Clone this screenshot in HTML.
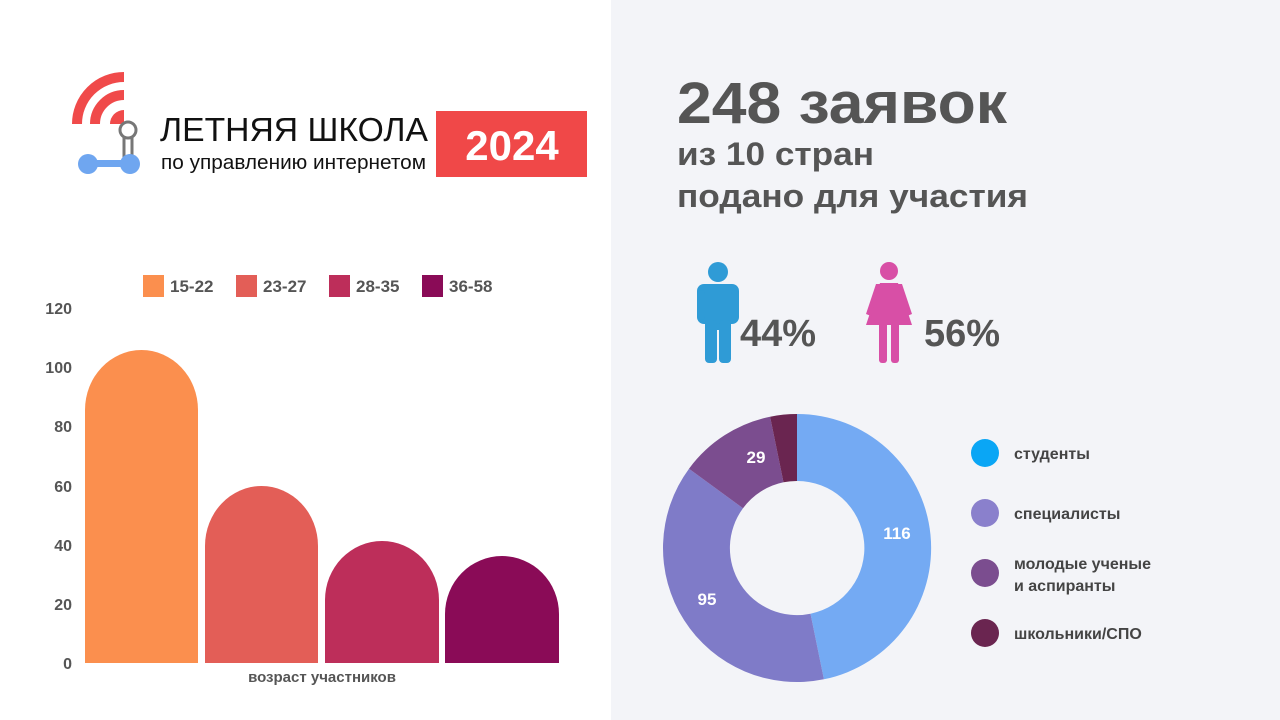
<!DOCTYPE html>
<html><head><meta charset="utf-8"><style>
html,body{margin:0;padding:0;width:1280px;height:720px;overflow:hidden;background:#fff}
svg{display:block}
text{font-family:"Liberation Sans",sans-serif}
</style></head><body>
<svg width="1280" height="720" viewBox="0 0 1280 720">
<rect x="0" y="0" width="611" height="720" fill="#ffffff"/>
<rect x="611" y="0" width="669" height="720" fill="#f3f4f8"/>

<!-- logo -->
<g fill="none" stroke="#f04a4a" stroke-width="10">
<path d="M77,124 A47,47 0 0 1 124,77"/>
<path d="M95,124 A29,29 0 0 1 124,95"/>
</g>
<path d="M110,124 A14,14 0 0 1 124,110 L124,124 Z" fill="#f04a4a"/>
<circle cx="128" cy="130" r="8" fill="none" stroke="#777" stroke-width="3"/>
<line x1="124" y1="137" x2="124" y2="158" stroke="#777" stroke-width="3"/>
<line x1="132" y1="137" x2="132" y2="158" stroke="#777" stroke-width="3"/>
<rect x="88" y="160" width="40" height="7" fill="#6fa6f0"/>
<circle cx="88" cy="164" r="10" fill="#6fa6f0"/>
<circle cx="130" cy="164" r="10" fill="#6fa6f0"/>
<text x="160" y="141" font-size="33" fill="#111" textLength="268" lengthAdjust="spacingAndGlyphs">ЛЕТНЯЯ ШКОЛА</text>
<text x="161" y="169" font-size="20" fill="#111" textLength="265" lengthAdjust="spacingAndGlyphs">по управлению интернетом</text>
<rect x="436" y="111" width="151" height="66" fill="#f04848"/>
<text x="512" y="160" font-size="42" font-weight="bold" fill="#fff" text-anchor="middle">2024</text>

<!-- bar legend -->
<g font-size="17" font-weight="bold" fill="#555">
<rect x="143" y="275" width="21" height="22" fill="#fb8f4e"/><text x="170" y="292">15-22</text>
<rect x="236" y="275" width="21" height="22" fill="#e35e57"/><text x="263" y="292">23-27</text>
<rect x="329" y="275" width="21" height="22" fill="#bd2e5a"/><text x="356" y="292">28-35</text>
<rect x="422" y="275" width="21" height="22" fill="#8a0b57"/><text x="449" y="292">36-58</text>
</g>
<g font-size="16" font-weight="bold" fill="#555" text-anchor="end">
<text x="72" y="314">120</text>
<text x="72" y="373">100</text>
<text x="72" y="432">80</text>
<text x="72" y="492">60</text>
<text x="72" y="551">40</text>
<text x="72" y="610">20</text>
<text x="72" y="669">0</text>
</g>
<path d="M85,663 L85,410 A56.5,60 0 0 1 198,410 L198,663 Z" fill="#fb8f4e"/>
<path d="M205,663 L205,546 A56.5,60 0 0 1 318,546 L318,663 Z" fill="#e35e57"/>
<path d="M325,663 L325,600 A57,59 0 0 1 439,600 L439,663 Z" fill="#bd2e5a"/>
<path d="M445,663 L445,614 A57,58 0 0 1 559,614 L559,663 Z" fill="#8a0b57"/>
<text x="322" y="682" font-size="15" font-weight="bold" fill="#555" text-anchor="middle">возраст участников</text>

<!-- right header -->
<text x="677" y="123" font-size="58" font-weight="bold" fill="#555" textLength="330" lengthAdjust="spacingAndGlyphs">248 заявок</text>
<text x="677" y="165" font-size="32" font-weight="bold" fill="#555" textLength="197" lengthAdjust="spacingAndGlyphs">из 10 стран</text>
<text x="677" y="207" font-size="32" font-weight="bold" fill="#555" textLength="351" lengthAdjust="spacingAndGlyphs">подано для участия</text>

<!-- male -->
<g fill="#2f9bd6">
<circle cx="718" cy="272" r="10"/>
<rect x="697" y="284" width="42" height="40" rx="7"/>
<rect x="697" y="290" width="8" height="30" rx="4"/>
<rect x="731" y="290" width="8" height="30" rx="4"/>
<rect x="705" y="300" width="26" height="30"/>
<rect x="705" y="320" width="12" height="43" rx="4"/>
<rect x="719" y="320" width="12" height="43" rx="4"/>
</g>
<text x="740" y="346" font-size="38" font-weight="bold" fill="#555">44%</text>
<!-- female -->
<g fill="#d84fa6">
<circle cx="889" cy="271" r="9"/>
<path d="M880,283 L898,283 L912,325 L866,325 Z"/>
<path d="M897,284 L907,316 L912,314 L902,284 Z"/>
<path d="M881,284 L871,316 L866,314 L876,284 Z"/>
<rect x="879" y="320" width="8" height="43" rx="3"/>
<rect x="891" y="320" width="8" height="43" rx="3"/>
</g>
<text x="924" y="346" font-size="38" font-weight="bold" fill="#555">56%</text>

<!-- donut -->
<path d="M797,414 A134,134 0 0 1 823.9,679.3 L810.5,613.7 A67,67 0 0 0 797,481 Z" fill="#74aaf3"/>
<path d="M823.9,679.3 A134,134 0 0 1 689,468.7 L743,508.3 A67,67 0 0 0 810.5,613.7 Z" fill="#7f7bc8"/>
<path d="M689,468.7 A134,134 0 0 1 770.1,416.7 L783.5,482.3 A67,67 0 0 0 743,508.3 Z" fill="#7b4d8f"/>
<path d="M770.1,416.7 A134,134 0 0 1 797,414 L797,481 A67,67 0 0 0 783.5,482.3 Z" fill="#6a2550"/>
<g font-size="17" font-weight="bold" fill="#fff" text-anchor="middle">
<text x="897" y="539">116</text>
<text x="707" y="605">95</text>
<text x="756" y="463">29</text>
</g>
<!-- donut legend -->
<g font-size="16" font-weight="bold" fill="#444">
<circle cx="985" cy="453" r="14" fill="#0aa6f5"/><text x="1014" y="459">студенты</text>
<circle cx="985" cy="513" r="14" fill="#8a80cc"/><text x="1014" y="519">специалисты</text>
<circle cx="985" cy="573" r="14" fill="#7b4d8f"/><text x="1014" y="569">молодые ученые</text><text x="1014" y="591">и аспиранты</text>
<circle cx="985" cy="633" r="14" fill="#6a2550"/><text x="1014" y="639">школьники/СПО</text>
</g>
</svg>
</body></html>
